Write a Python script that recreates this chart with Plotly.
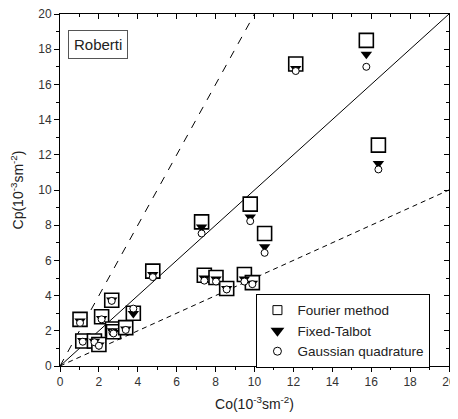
import plotly.graph_objects as go

co = [1.03, 1.17, 1.77, 2.0, 2.14, 2.66, 2.7, 2.75, 3.38, 3.77, 4.77, 7.28, 7.42, 8.02, 8.57,
      9.48, 9.89, 9.78, 10.52, 12.12, 15.75, 16.37]
cp_fourier = [2.65, 1.42, 1.42, 1.22, 2.8, 3.74, 2.1, 1.95, 2.18, 3.0, 5.39, 8.19, 5.16, 5.03, 4.4,
              5.2, 4.74, 9.2, 7.53, 17.16, 18.5, 12.55]
cp_talbot = [2.55, 1.45, 1.4, 1.2, 2.7, 3.75, 2.0, 1.9, 2.1, 2.98, 5.2, 7.9, 5.0, 4.95, 4.4,
             4.95, 4.7, 8.47, 6.77, 16.9, 17.71, 11.51]
cp_gauss = [2.45, 1.38, 1.35, 1.15, 2.65, 3.7, 1.9, 1.85, 2.05, 3.26, 5.05, 7.53, 4.85, 4.8, 4.35,
            4.8, 4.65, 8.23, 6.43, 16.76, 17.0, 11.17]

line_x = [0, 20]
line_x2 = [0, 10]
ref_1 = [0, 20]      # Cp = Co
ref_2 = [0, 20]      # Cp = 2 Co
ref_05 = [0, 10]     # Cp = 0.5 Co

fig = go.Figure()
fig.add_trace(go.Scatter(x=line_x, y=ref_1, mode="lines", line=dict(color="black", width=1),
                         showlegend=False, hoverinfo="skip"))
fig.add_trace(go.Scatter(x=line_x2, y=ref_2, mode="lines",
                         line=dict(color="black", width=1, dash="8px,8px"),
                         showlegend=False, hoverinfo="skip"))
fig.add_trace(go.Scatter(x=line_x, y=ref_05, mode="lines",
                         line=dict(color="black", width=1, dash="5px,4px"),
                         showlegend=False, hoverinfo="skip"))
fig.add_trace(go.Scatter(x=co, y=cp_fourier, mode="markers", showlegend=False,
                         marker=dict(symbol="square", size=14, color="white",
                                     line=dict(color="black", width=1.6))))
fig.add_trace(go.Scatter(x=co, y=cp_talbot, mode="markers", showlegend=False,
                         marker=dict(symbol="triangle-down", size=10, color="black",
                                     line=dict(color="black", width=0))))
fig.add_trace(go.Scatter(x=co, y=cp_gauss, mode="markers", showlegend=False,
                         marker=dict(symbol="circle", size=7, color="white",
                                     line=dict(color="black", width=1))))
# legend entries (smaller markers as in the reference legend)
fig.add_trace(go.Scatter(x=[None], y=[None], mode="markers", name="Fourier method",
                         marker=dict(symbol="square", size=9, color="white",
                                     line=dict(color="black", width=1))))
fig.add_trace(go.Scatter(x=[None], y=[None], mode="markers", name="Fixed-Talbot",
                         marker=dict(symbol="triangle-down", size=12, color="black",
                                     line=dict(width=0))))
fig.add_trace(go.Scatter(x=[None], y=[None], mode="markers", name="Gaussian quadrature",
                         marker=dict(symbol="circle", size=8, color="white",
                                     line=dict(color="black", width=1))))
# mirror axes holder
fig.add_trace(go.Scatter(x=[None], y=[None], xaxis="x2", yaxis="y2", showlegend=False,
                         hoverinfo="skip"))

tickfont = dict(family="Liberation Sans, Arial", size=12, color="#333")
common = dict(range=[0, 20], dtick=2, showgrid=False, zeroline=False, showline=True,
              linecolor="black", linewidth=1, ticklen=5, tickcolor="black", automargin=False,
              ticklabeloverflow="allow",
              minor=dict(dtick=1, ticklen=3, tickcolor="black"))

fig.update_layout(
    width=450, height=411,
    margin=dict(l=52, r=9, t=6, b=53),
    plot_bgcolor="white", paper_bgcolor="white",
    font=dict(family="Liberation Sans, Arial", color="#222"),
    xaxis=dict(**common, ticks="outside", tickfont=tickfont,
               minor_ticks="outside",
               title=dict(text="Co(10<sup>-3</sup>sm<sup>-2</sup>)", font=dict(size=14), standoff=10)),
    yaxis=dict(**common, ticks="outside", tickfont=tickfont,
               minor_ticks="outside",
               title=dict(text="Cp(10<sup>-3</sup>sm<sup>-2</sup>)", font=dict(size=14), standoff=12)),
    xaxis2=dict(**common, ticks="inside", minor_ticks="inside", overlaying="x", side="top",
                anchor="y2", showticklabels=False),
    yaxis2=dict(**common, ticks="inside", minor_ticks="inside", overlaying="y", side="right",
                anchor="x2", showticklabels=False),
    legend=dict(x=0.505, y=0.205, xanchor="left", yanchor="top", bgcolor="white",
                bordercolor="black", borderwidth=1,
                font=dict(size=13.5, family="Liberation Sans, Arial", color="#222"),
                itemwidth=30, tracegroupgap=0),
    annotations=[dict(text="Roberti", xref="paper", yref="paper", x=0.02, y=0.955,
                      xanchor="left", yanchor="top", showarrow=False,
                      font=dict(size=15, family="Liberation Sans, Arial", color="#222"),
                      bordercolor="#555", borderwidth=1, borderpad=5, bgcolor="white")],
)
fig.write_html("out.html")
